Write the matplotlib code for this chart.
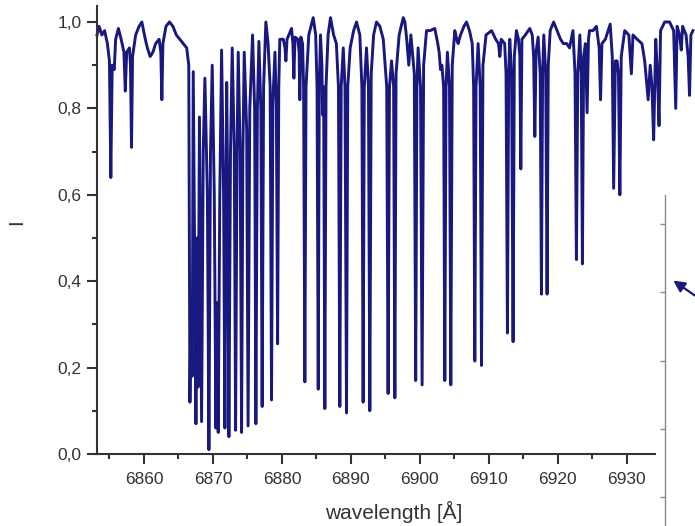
import matplotlib
matplotlib.use('Agg')
import matplotlib.pyplot as plt
from matplotlib.ticker import MultipleLocator, FuncFormatter

# spectrum: wavelength [A] and relative intensity
wl = [6853.2, 6853.5, 6853.9, 6854.3, 6854.7, 6855.0, 6855.2, 6855.4, 6855.7, 6855.9,
      6856.3, 6856.7, 6857.1, 6857.3, 6857.5, 6857.9, 6858.05, 6858.2, 6858.35, 6858.8,
      6859.3, 6859.7, 6860.2, 6860.5, 6860.9, 6861.3, 6861.7, 6862.2, 6862.45, 6862.6,
      6862.75, 6863.2, 6863.7, 6864.2, 6864.7, 6865.2, 6865.7, 6866.2, 6866.5, 6866.67,
      6866.8, 6867.0, 6867.15, 6867.54, 6867.7, 6867.85, 6868.05, 6868.36, 6868.6, 6868.84,
      6869.2, 6869.42, 6869.65, 6869.9, 6870.2, 6870.43, 6870.6, 6870.77, 6871.0, 6871.26,
      6871.55, 6871.74, 6871.9, 6872.0, 6872.15, 6872.32, 6872.55, 6872.8, 6873.1, 6873.29,
      6873.5, 6873.67, 6873.95, 6874.16, 6874.35, 6874.54, 6874.9, 6875.1, 6875.35, 6875.75,
      6876.05, 6876.23, 6876.45, 6876.67, 6876.95, 6877.14, 6877.35, 6877.68, 6878.0, 6878.3,
      6878.5, 6878.7, 6879.0, 6879.2, 6879.38, 6879.55, 6879.7, 6880.2, 6880.45, 6880.58,
      6880.75, 6881.4, 6881.6, 6881.74, 6881.9, 6882.3, 6882.5, 6882.6, 6882.75, 6883.0,
      6883.15, 6883.33, 6883.5, 6883.9, 6884.54, 6884.9, 6885.1, 6885.27, 6885.42, 6885.6,
      6885.8, 6885.9, 6886.05, 6886.23, 6886.4, 6886.7, 6887.05, 6887.5, 6887.9, 6888.2,
      6888.4, 6888.6, 6888.9, 6889.15, 6889.37, 6889.55, 6889.9, 6890.4, 6890.82, 6891.3,
      6891.6, 6891.78, 6891.95, 6892.27, 6892.55, 6892.75, 6892.95, 6893.3, 6893.72, 6894.2,
      6894.7, 6895.2, 6895.4, 6895.6, 6895.9, 6896.2, 6896.38, 6896.55, 6897.0, 6897.6,
      6897.83, 6898.1, 6898.4, 6898.7, 6899.2, 6899.4, 6899.58, 6899.75, 6900.1, 6900.33,
      6900.55, 6900.97, 6901.5, 6902.17, 6902.6, 6902.8, 6903.0, 6903.2, 6903.45, 6903.62,
      6903.8, 6904.0, 6904.3, 6904.49, 6904.7, 6905.07, 6905.35, 6905.55, 6905.9, 6906.4,
      6906.77, 6907.2, 6907.6, 6907.8, 6907.97, 6908.15, 6908.45, 6908.75, 6908.94, 6909.15,
      6909.6, 6910.4, 6911.0, 6911.4, 6911.6, 6911.8, 6912.3, 6912.5, 6912.7, 6912.88,
      6913.04, 6913.3, 6913.52, 6913.7, 6914.0, 6914.3, 6914.5, 6914.64, 6914.8, 6915.3,
      6915.94, 6916.3, 6916.5, 6916.67, 6916.85, 6917.15, 6917.45, 6917.63, 6917.8, 6917.97,
      6918.25, 6918.45, 6918.62, 6918.9, 6919.4, 6919.9, 6920.4, 6920.8, 6921.3, 6921.7,
      6922.2, 6922.5, 6922.7, 6922.9, 6923.2, 6923.4, 6923.57, 6923.75, 6924.0, 6924.25,
      6924.45, 6924.6, 6925.1, 6925.6, 6926.0, 6926.2, 6926.4, 6926.9, 6927.6, 6927.9,
      6928.1, 6928.35, 6928.6, 6928.8, 6929.0, 6929.2, 6929.7, 6930.3, 6930.67, 6930.9,
      6931.5, 6932.2, 6932.6, 6933.1, 6933.4, 6933.65, 6933.9, 6934.2, 6934.45, 6934.68,
      6934.9, 6935.5, 6936.2, 6936.8, 6937.1, 6937.3, 6937.65, 6937.9, 6938.1, 6938.6,
      6938.9, 6939.1, 6939.3, 6939.6]
flux = [0.97, 0.99, 0.97, 0.98, 0.95, 0.91, 0.64, 0.90, 0.89, 0.96,
        0.985, 0.96, 0.93, 0.84, 0.93, 0.94, 0.90, 0.71, 0.92, 0.97,
        0.99, 1.00, 0.96, 0.94, 0.92, 0.93, 0.95, 0.96, 0.93, 0.82,
        0.95, 0.99, 1.00, 0.99, 0.97, 0.96, 0.95, 0.94, 0.90, 0.12,
        0.33, 0.18, 0.885, 0.07, 0.50, 0.155, 0.78, 0.075, 0.70, 0.87,
        0.60, 0.01, 0.70, 0.90, 0.60, 0.06, 0.35, 0.05, 0.60, 0.935,
        0.60, 0.06, 0.60, 0.86, 0.60, 0.04, 0.70, 0.94, 0.70, 0.055,
        0.70, 0.93, 0.70, 0.05, 0.70, 0.93, 0.75, 0.065, 0.80, 0.97,
        0.80, 0.07, 0.80, 0.955, 0.80, 0.11, 0.85, 1.00, 0.95, 0.85,
        0.125, 0.82, 0.93, 0.80, 0.255, 0.85, 0.96, 0.96, 0.94, 0.91,
        0.96, 0.985, 0.95, 0.87, 0.965, 0.96, 0.93, 0.82, 0.965, 0.95,
        0.85, 0.167, 0.85, 0.97, 1.01, 0.97, 0.85, 0.15, 0.85, 0.97,
        0.90, 0.785, 0.85, 0.105, 0.85, 0.97, 1.01, 0.97, 0.95, 0.85,
        0.11, 0.85, 0.94, 0.85, 0.095, 0.85, 0.94, 0.98, 1.00, 0.97,
        0.85, 0.12, 0.85, 0.94, 0.85, 0.10, 0.88, 0.97, 1.00, 0.99,
        0.96, 0.85, 0.14, 0.85, 0.91, 0.85, 0.13, 0.88, 0.97, 1.01,
        1.00, 0.96, 0.90, 0.97, 0.88, 0.17, 0.85, 0.94, 0.85, 0.16,
        0.90, 0.98, 0.98, 0.985, 0.95, 0.93, 0.89, 0.90, 0.85, 0.17,
        0.85, 0.93, 0.85, 0.16, 0.90, 0.98, 0.96, 0.95, 0.97, 0.99,
        1.00, 0.98, 0.95, 0.85, 0.215, 0.85, 0.95, 0.85, 0.205, 0.90,
        0.97, 0.98, 0.96, 0.95, 0.92, 0.96, 0.95, 0.88, 0.28, 0.88,
        0.96, 0.88, 0.26, 0.92, 0.98, 0.96, 0.92, 0.66, 0.96, 0.97,
        0.985, 0.97, 0.92, 0.735, 0.93, 0.965, 0.88, 0.37, 0.88, 0.97,
        0.88, 0.37, 0.90, 0.98, 1.00, 0.98, 0.96, 0.95, 0.95, 0.94,
        0.98, 0.88, 0.45, 0.88, 0.97, 0.88, 0.44, 0.92, 0.95, 0.79,
        0.96, 0.98, 0.98, 0.99, 0.94, 0.82, 0.95, 0.96, 0.995, 0.92,
        0.615, 0.91, 0.91, 0.88, 0.60, 0.92, 0.98, 0.97, 0.88, 0.97,
        0.96, 0.95, 0.91, 0.82, 0.90, 0.85, 0.727, 0.96, 0.88, 0.76,
        0.98, 1.00, 1.00, 0.98, 0.80, 0.99, 0.97, 0.935, 0.99, 0.97,
        0.92, 0.83, 0.97, 0.98]

x_range = (6853.2, 6934.1)
y_range = (0.0, 1.037)

navy = '#18187f'
dark = '#333333'

plt.rcParams['font.family'] = ['Liberation Sans', 'DejaVu Sans']

fig = plt.figure(figsize=(6.95, 5.26), dpi=100)
ax = fig.add_axes([0.1396, 0.1369, 0.8029, 0.8517])
ax.plot(wl, flux, color=navy, lw=2.1, clip_on=False, solid_joinstyle='round')

ax.set_xlim(*x_range)
ax.set_ylim(*y_range)
ax.spines['top'].set_visible(False)
ax.spines['right'].set_visible(False)
for s in ['left', 'bottom']:
    ax.spines[s].set_color(dark)
    ax.spines[s].set_linewidth(1.5)

ax.xaxis.set_major_locator(MultipleLocator(10))
ax.xaxis.set_minor_locator(MultipleLocator(5))
ax.yaxis.set_major_locator(MultipleLocator(0.2))
ax.yaxis.set_minor_locator(MultipleLocator(0.1))
ax.yaxis.set_major_formatter(FuncFormatter(lambda v, p: ('%.1f' % v).replace('.', ',')))
ax.tick_params(which='major', length=7.2, width=1.5, color=dark, labelsize=12.5,
               labelcolor=dark, pad=4)
ax.tick_params(which='minor', length=3.8, width=1.5, color=dark)
ax.tick_params(axis='x', which='major', pad=6)

# y label and x label
fig.text(17/695, 1-222/526, 'I', rotation=90, ha='center', va='center',
         fontsize=15, color=dark)
fig.text(394/695, 1-512/526, 'wavelength [Å]', ha='center', va='center',
         fontsize=15, color=dark)

# the stray grey axis on the right
ax2 = fig.add_axes([665/695, 0.0, 0.01, 1-195/526])
ax2.patch.set_visible(False)
for s in ['top', 'right', 'bottom']:
    ax2.spines[s].set_visible(False)
ax2.spines['left'].set_color('#8a8a8a')
ax2.spines['left'].set_linewidth(1.0)
ax2.set_ylim(-0.42, 4.426)
ax2.set_yticks([0, 1, 2, 3, 4])
ax2.set_xticks([])
ax2.tick_params(axis='y', length=3.8, width=1.0, color='#8a8a8a', labelleft=False)

# arrow pointing at it
ax.annotate('', xy=(671/695, 1-279/526), xycoords='figure fraction',
            xytext=(697/695, 1-297/526), textcoords='figure fraction',
            arrowprops=dict(arrowstyle='-|>', color=navy, lw=1.6, mutation_scale=17),
            annotation_clip=False)

plt.savefig('out.png', dpi=100)
